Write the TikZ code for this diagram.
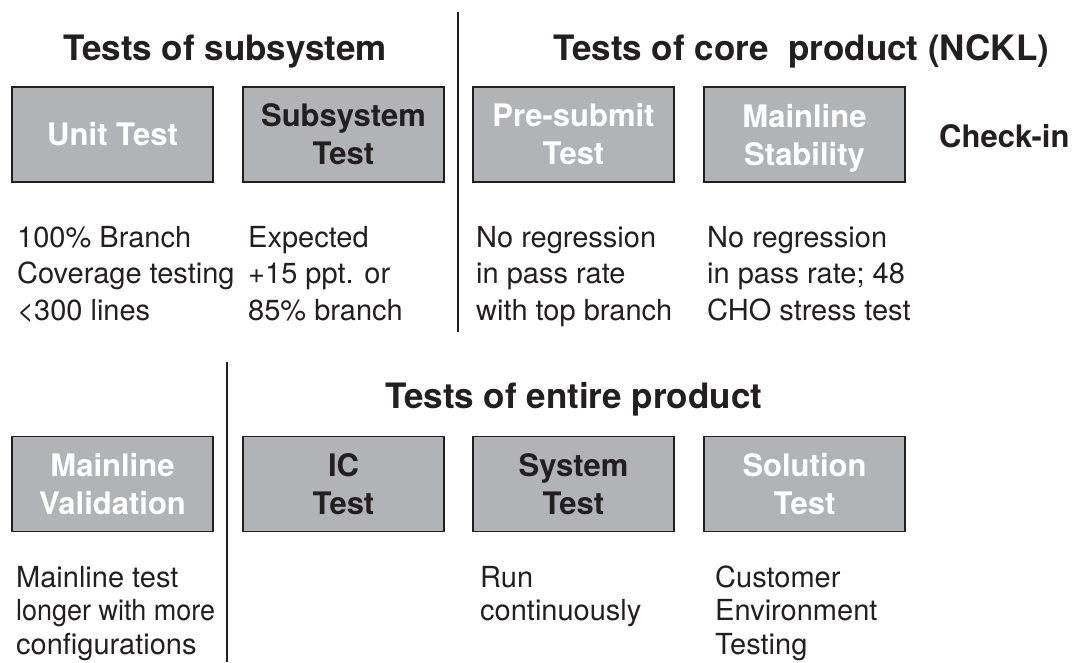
\documentclass[tikz,border=0pt]{standalone}
\usepackage{fontspec}
\usepackage{graphicx}
\setmainfont{TeX Gyre Heros}
\definecolor{boxgray}{HTML}{B1B3B6}
\definecolor{ink}{HTML}{231F20}
\begin{document}
\begin{tikzpicture}[x=1pt,y=-1pt,
  testbox/.style={draw=ink, line width=1.6pt, fill=boxgray, minimum width=201pt,
    minimum height=95pt, inner sep=0pt, align=center,
    font=\fontsize{31}{38}\selectfont\bfseries},
  lighttext/.style={text=white},
  darktext/.style={text=ink},
  heading/.style={anchor=base west, inner sep=0pt, text=ink,
    font=\fontsize{35}{42}\selectfont\bfseries},
  note/.style={anchor=base west, inner sep=0pt, text=ink, align=left,
    font=\fontsize{29}{36.5}\selectfont},
  shortnote/.style={note, font=\fontsize{29}{33.5}\selectfont},
  divider/.style={draw=ink, line width=1.5pt}]
\useasboundingbox (0,0) rectangle (1075,662);

% section headings
\node[heading] (subsyshead) at (63,60) {Tests of subsystem};
\node[heading] (corehead) at (553,60) {Tests of core\ \ product (NCKL)};
\node[heading] (entirehead) at (385,408) {Tests of entire product};
\node[heading, font=\fontsize{31}{38}\selectfont\bfseries] (checkin) at (939,147) {Check-in};

% upper row of test stages
\node[testbox,lighttext] (unit) at (112.5,134.5) {Unit Test};
\node[testbox,darktext] (subsys) at (343.5,134.5) {Subsystem\\Test};
\node[testbox,lighttext] (presubmit) at (573.5,134.5) {Pre-submit\\Test};
\node[testbox,lighttext] (stability) at (804.5,134.5) {Mainline\\\smash{Stability}};

% lower row of test stages
\node[testbox,lighttext] (validation) at (112.5,484) {Mainline\\Validation};
\node[testbox,darktext] (ic) at (343.5,484) {IC\\Test};
\node[testbox,darktext] (system) at (573.5,484) {System\\Test};
\node[testbox,lighttext] (solution) at (804.5,484) {Solution\\Test};

% criteria below each stage (positioned by the baseline of the last line)
\node[note] (unitnote) at (17,320) {100\% Branch\\Coverage testing\\<300 lines};
\node[note] (subsysnote) at (248,320) {Expected\\+15 ppt. or\\85\% branch};
\node[note] (presubnote) at (476,320) {No regression\\in pass rate\\with top branch};
\node[note] (stabnote) at (707,320) {No regression\\in pass rate; 48\\CHO stress test};

\node[shortnote] (valnote) at (16,654) {Mainline test\\\scalebox{0.93}[1]{longer with more}\\configurations};
\node[shortnote] (sysnote) at (480,620.5) {Run\\continuously};
\node[shortnote] (solnote) at (715,654) {Customer\\Environment\\Testing};

% dividers between groups
\coordinate (uppertop) at (458,12);
\coordinate (upperbot) at (458,332);
\coordinate (lowertop) at (227,362);
\coordinate (lowerbot) at (227,662);
\draw[divider] (uppertop) -- (upperbot);
\draw[divider] (lowertop) -- (lowerbot);
\end{tikzpicture}
\end{document}
